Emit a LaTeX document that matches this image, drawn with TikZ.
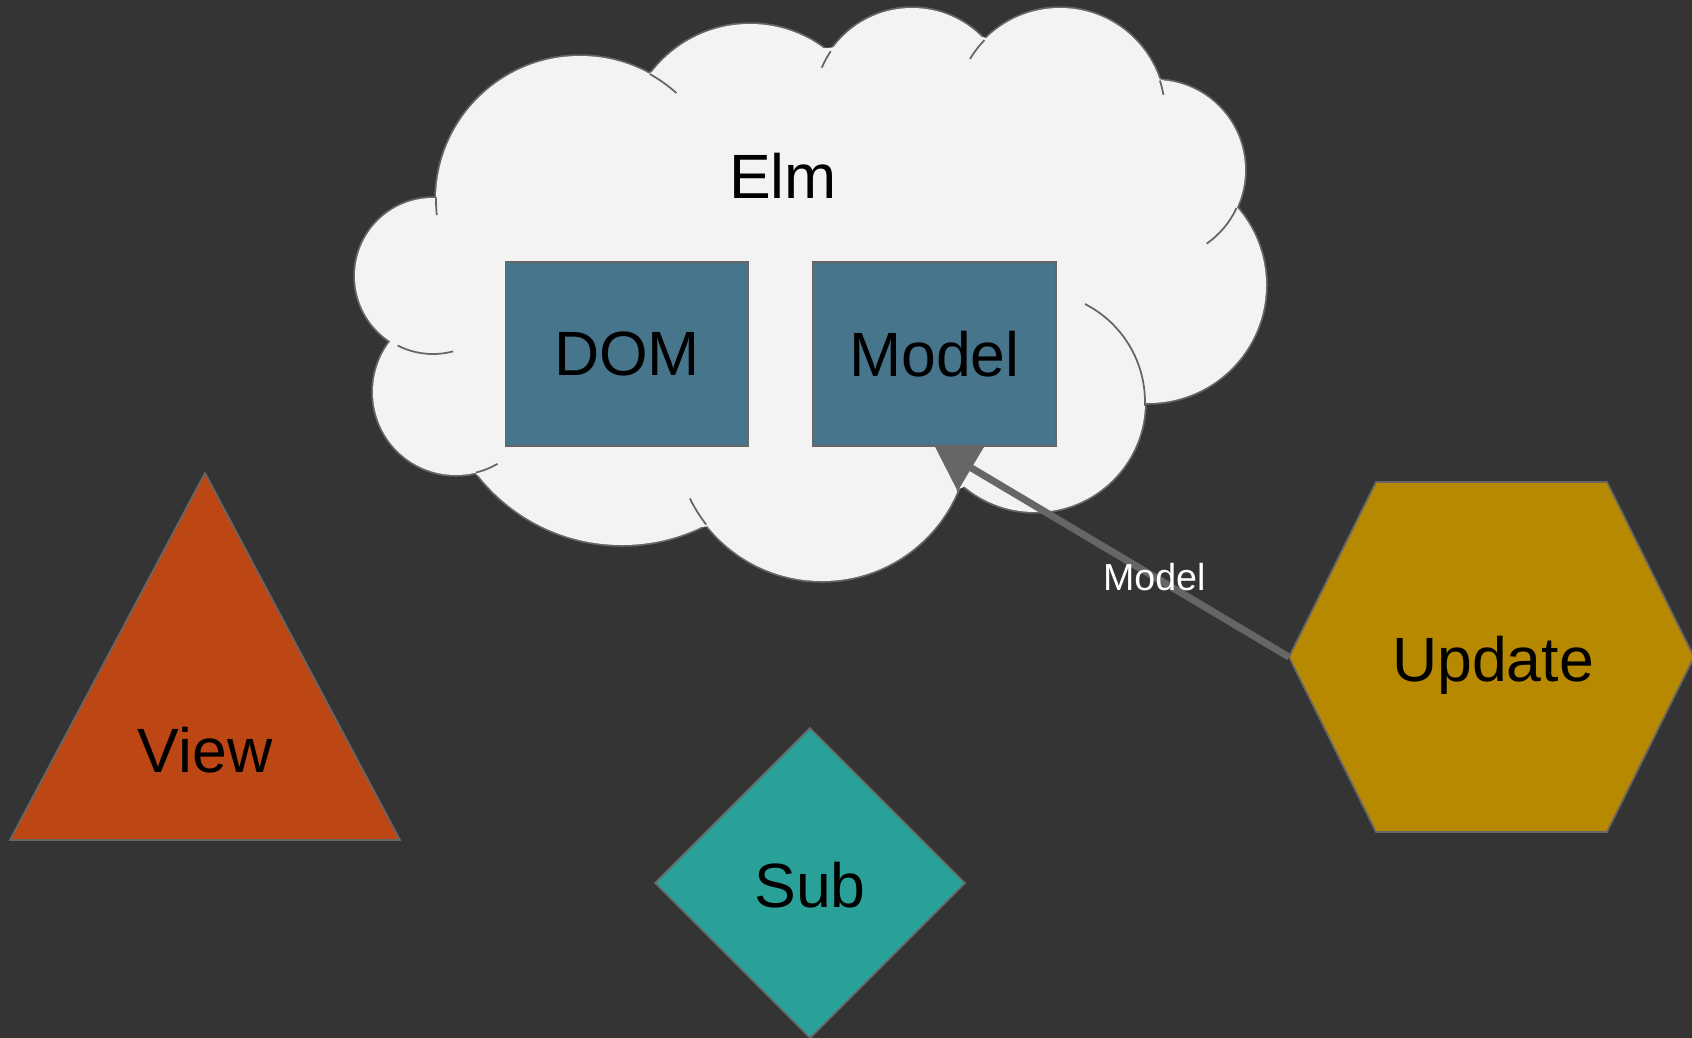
\documentclass[tikz,border=0pt]{standalone}
\usepackage{fontspec}
\setmainfont{Liberation Sans}
\usetikzlibrary{arrows.meta}
\definecolor{colBoard}{RGB}{52,52,52}
\definecolor{colCloud}{RGB}{243,243,243}
\definecolor{colEdge}{RGB}{102,102,102}
\definecolor{colBox}{RGB}{70,117,140}
\definecolor{colView}{RGB}{189,71,20}
\definecolor{colUpd}{RGB}{183,137,0}
\definecolor{colSub}{RGB}{42,161,152}
\newcommand{\bigtxt}{\fontsize{17.8}{21}\selectfont}
\newcommand{\smalltxt}{\fontsize{10.7}{12}\selectfont}
% lobes of the cloud: centre x / centre y / radius (1 unit = 0.1mm)
\newcommand{\lobes}{580/200/144, 750/148/124, 912/106/98, 1060/113/105,
  1155/170/90, 1148/285/118, 1035/402/110, 822/434/147, 622/362/183,
  456/392/83, 433/276/78}

\begin{document}
\begin{tikzpicture}[x=0.1mm, y=-0.1mm,
    every node/.style={font=\bigtxt, inner sep=0pt, outer sep=0pt},
    box/.style={draw=colEdge, line width=0.5pt, fill=colBox,
      minimum width=24.3mm, minimum height=18.4mm},
    edge/.style={draw=colEdge, line width=0.5pt}]
  % --- board ---
  \fill[colBoard] (0,0) rectangle (1692,1038);
  \useasboundingbox (0,0) rectangle (1692,1038);
  % --- cloud: stroke every lobe, then fill them all on top ---
  \foreach \cx/\cy/\r in \lobes
    \draw[colEdge, line width=1pt] (\cx,\cy) circle[radius=\r];
  \foreach \cx/\cy/\r in \lobes
    \fill[colCloud] (\cx,\cy) circle[radius=\r];
  \fill[colCloud] (435,199) -- (652,72) -- (825,48) -- (982,37) -- (1163,80)
    -- (1237,208) -- (1143,403) -- (957,490) -- (702,527) -- (477,475)
    -- (398,343) -- cycle;
  % creases where one lobe runs on into the next
  \foreach \cx/\cy/\r/\a/\b in {580/200/144/174/181, 580/200/144/-61/-48,
      912/106/98/203/214, 1060/113/105/211/224, 1060/113/105/-18/-10,
      1155/170/90/25/55, 1035/402/110/-63/2, 822/434/147/142/154,
      822/434/147/15/23, 456/392/83/60/76, 433/276/78/75/117}
    \draw[colEdge, line width=0.5pt] (\cx,\cy) ++(\a:\r)
      arc[start angle=\a, end angle=\b, radius=\r];
  \node (elm) at (783,176) {Elm};
  \node[box] (dom) at (627,354) {DOM};
  \node[box] (model) at (934.5,354) {Model};
  % --- View ---
  \filldraw[edge, fill=colView] (205,473) -- (400,840) -- (10,840) -- cycle;
  \node (view) at (205,750) {View};
  % --- Sub ---
  \filldraw[edge, fill=colSub] (810,728) -- (965,883) -- (810,1038)
    -- (655,883) -- cycle;
  \node (sub) at (810,885) {Sub};
  % --- Update ---
  \filldraw[edge, fill=colUpd] (1289,657) -- (1376,482) -- (1607,482)
    -- (1694,657) -- (1607,832) -- (1376,832) -- cycle;
  \node[anchor=base] (update) at (1493,681) {Update};
  \coordinate (updW) at (1289,657);
  \draw[colEdge, line width=2pt, -{Triangle[length=4.3mm, width=5.2mm]}]
    (updW) -- (model.south)
    node[pos=0.38, font=\smalltxt, text=white] (msg) {Model};
\end{tikzpicture}
\end{document}
